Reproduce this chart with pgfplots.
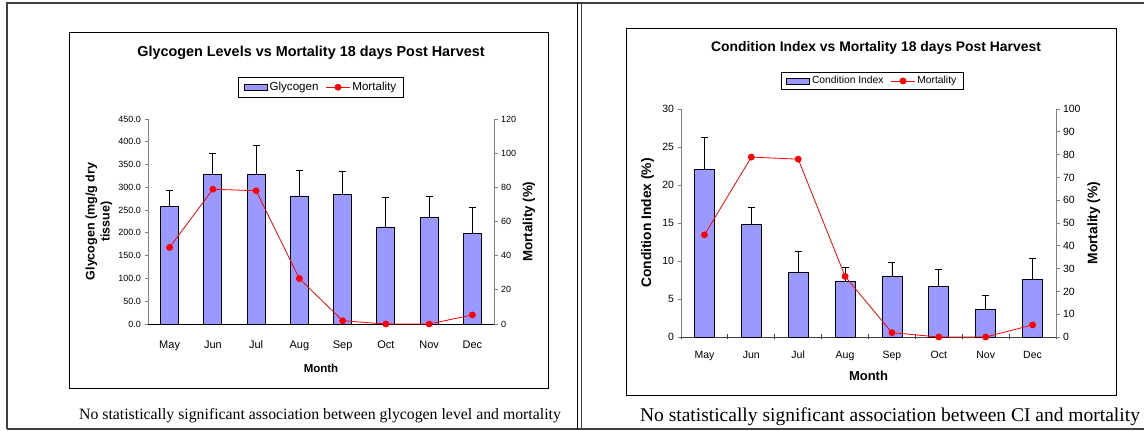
\documentclass[border=0pt]{standalone}
\usepackage{fontspec}
\setmainfont{Liberation Sans}
\newfontfamily\capfont{Liberation Serif}
\usepackage{pgfplots}
\usepackage{pgfplotstable}
\pgfplotsset{compat=1.18}

\definecolor{barblue}{HTML}{9999FF}
\definecolor{axgray}{HTML}{808080}
\definecolor{cellgray}{HTML}{404040}

% month, bar value, error (+), mortality
\pgfplotstableread{
x gly glyerr mort
0 259 34 44.8
1 328 47 78.9
2 328 64 78.0
3 281 57 26.6
4 284 52 1.9
5 213 65 0
6 233 46 0
7 199 56 5.3
}\glytab

\pgfplotstableread{
x ci cierr mort
0 22.0 4.2 44.8
1 14.8 2.3 78.9
2 8.5 2.7 78.0
3 7.3 1.9 26.6
4 7.95 1.8 1.9
5 6.7 2.2 0
6 3.6 1.9 0
7 7.6 2.8 5.3
}\citab

\pgfplotsset{
  barleg/.style={legend image code/.code={\draw[##1] (0pt,-3pt) rectangle (23pt,3pt);}},
  lineleg/.style={legend image code/.code={\draw[mark repeat=2,mark phase=2,##1] plot coordinates {(0pt,0pt)(12pt,0pt)(24pt,0pt)};}},
  excel/.style={
    scale only axis,
    xmin=-0.5, xmax=7.5,
    ymin=0,
    tick align=outside,
    major tick length=3.5pt,
    tick style={axgray, line width=0.8pt},
    axis line style={axgray, line width=0.8pt},
    /pgf/number format/assume math mode=true,
    clip=false,
  },
  mortline/.style={red, line width=0.8pt, mark=*, mark size=3pt, mark options={fill=red, draw=red}},
  errbars/.style={error bars/.cd, y dir=plus, y explicit,
    error bar style={black, line width=0.8pt},
    error mark=-,
    error mark options={rotate=90, black, mark size=3.5pt, line width=0.8pt}},
}

\begin{document}
\begin{tikzpicture}
\useasboundingbox (0,0) rectangle (1144pt,431pt);

% outer cells
\draw[cellgray, line width=1.2pt] (7pt,2pt) -- (7pt,428pt) -- (1144pt,428pt);
\draw[cellgray, line width=1.2pt] (7pt,2pt) -- (1144pt,2pt);
\draw[black, line width=1.8pt] (577.5pt,2pt) -- (577.5pt,428pt);
\draw[cellgray, line width=0.8pt] (581pt,2pt) -- (581pt,428pt);

% chart frames
\draw[black, line width=1pt] (69pt,42pt) rectangle (548pt,398pt);
\draw[black, line width=1pt] (626pt,35pt) rectangle (1116pt,402pt);

% ---------------- left chart ----------------
\node[font=\bfseries\fontsize{14.4}{16}\selectfont] at (311pt,378pt) {Glycogen Levels vs Mortality 18 days Post Harvest};

\begin{axis}[excel,
  at={(148pt,107pt)}, anchor=south west,
  width=346pt, height=205pt,
  ymax=450, ytick={0,50,...,450},
  axis y line*=left, axis x line*=bottom,
  x axis line style={black},
  xtick={0,...,7},
  xticklabels={May,Jun,Jul,Aug,Sep,Oct,Nov,Dec},
  xtick style={draw=none},
  xticklabel style={font=\fontsize{11}{12}\selectfont, text height=8.5pt, text depth=2.5pt, yshift=-9pt},
  yticklabel style={font=\fontsize{9}{10}\selectfont,
    /pgf/number format/.cd, fixed, fixed zerofill, precision=1},
  xlabel={Month},
  xlabel style={font=\bfseries\fontsize{11.5}{13}\selectfont, at={(axis description cs:0.5,-0.215)}, anchor=center},
  ylabel={Glycogen (mg/g dry\\tissue)},
  ylabel style={font=\bfseries\fontsize{12.5}{15}\selectfont, align=center, at={(axis description cs:-0.142,0.5)}, anchor=center},
  legend style={at={(0.5,1.155)}, anchor=center, draw=black, line width=0.8pt,
    font=\fontsize{11.6}{12.5}\selectfont, legend columns=-1,
    inner xsep=5pt, inner ysep=3pt,
    /tikz/every even column/.append style={column sep=5pt}},
  legend cell align=left,
]
\addplot[ybar, bar width=18pt, fill=barblue, draw=black, line width=0.8pt, barleg, errbars]
  table[x=x, y=gly, y error=glyerr] {\glytab};
\addlegendentry{Glycogen}
\addlegendimage{mortline, lineleg}
\addlegendentry{Mortality}
\end{axis}

\begin{axis}[excel,
  at={(148pt,107pt)}, anchor=south west,
  width=346pt, height=205pt,
  ymax=120, ytick={0,20,...,120},
  axis y line*=right, axis x line=none,
  yticklabel style={font=\fontsize{9}{10}\selectfont},
  ylabel={Mortality (\%)},
  ylabel style={font=\bfseries\fontsize{13.3}{15}\selectfont, at={(axis description cs:1.101,0.5)}, anchor=center},
]
\addplot[mortline] table[x=x, y=mort] {\glytab};
\end{axis}

\node[font=\capfont\fontsize{15.8}{18}\selectfont] at (320pt,15pt) {No statistically significant association between glycogen level and mortality};

% ---------------- right chart ----------------
\node[font=\bfseries\fontsize{13.9}{15.5}\selectfont] at (876pt,383pt) {Condition Index vs Mortality 18 days Post Harvest};

\begin{axis}[excel,
  at={(681pt,94pt)}, anchor=south west,
  width=375pt, height=228pt,
  ymax=30, ytick={0,5,...,30},
  axis y line*=left, axis x line*=bottom,
  x axis line style={black!75},
  xtick={-0.5,0.5,...,7.5},
  xticklabels={May,Jun,Jul,Aug,Sep,Oct,Nov,Dec},
  x tick label as interval,
  xtick style={black!75, yshift=2.5pt, /pgfplots/major tick length=5pt},
  xticklabel style={font=\fontsize{10.5}{12}\selectfont, text height=8pt, text depth=2.5pt, yshift=-6pt},
  yticklabel style={font=\fontsize{10.5}{12}\selectfont},
  xlabel={Month},
  xlabel style={font=\bfseries\fontsize{13}{14}\selectfont, at={(axis description cs:0.5,-0.171)}, anchor=center},
  ylabel={Condition Index (\%)},
  ylabel style={font=\bfseries\fontsize{13.8}{15}\selectfont, at={(axis description cs:-0.089,0.5)}, anchor=center},
  legend style={at={(0.51,1.123)}, anchor=center, draw=black, line width=0.8pt,
    font=\fontsize{10.3}{11}\selectfont, legend columns=-1,
    inner xsep=5pt, inner ysep=2pt,
    /tikz/every even column/.append style={column sep=5pt}},
  legend cell align=left,
]
\addplot[ybar, bar width=20pt, fill=barblue, draw=black, line width=0.8pt, barleg, errbars]
  table[x=x, y=ci, y error=cierr] {\citab};
\addlegendentry{Condition Index}
\addlegendimage{mortline, lineleg}
\addlegendentry{Mortality}
\end{axis}

\begin{axis}[excel,
  at={(681pt,94pt)}, anchor=south west,
  width=375pt, height=228pt,
  ymax=100, ytick={0,10,...,100},
  axis y line*=right, axis x line=none,
  yticklabel style={font=\fontsize{10.5}{12}\selectfont},
  ylabel={Mortality (\%)},
  ylabel style={font=\bfseries\fontsize{13.8}{15}\selectfont, at={(axis description cs:1.101,0.5)}, anchor=center},
]
\addplot[mortline] table[x=x, y=mort] {\citab};
\end{axis}

\node[font=\capfont\fontsize{19.5}{22}\selectfont] at (890pt,14pt) {No statistically significant association between CI and mortality};
\end{tikzpicture}
\end{document}
